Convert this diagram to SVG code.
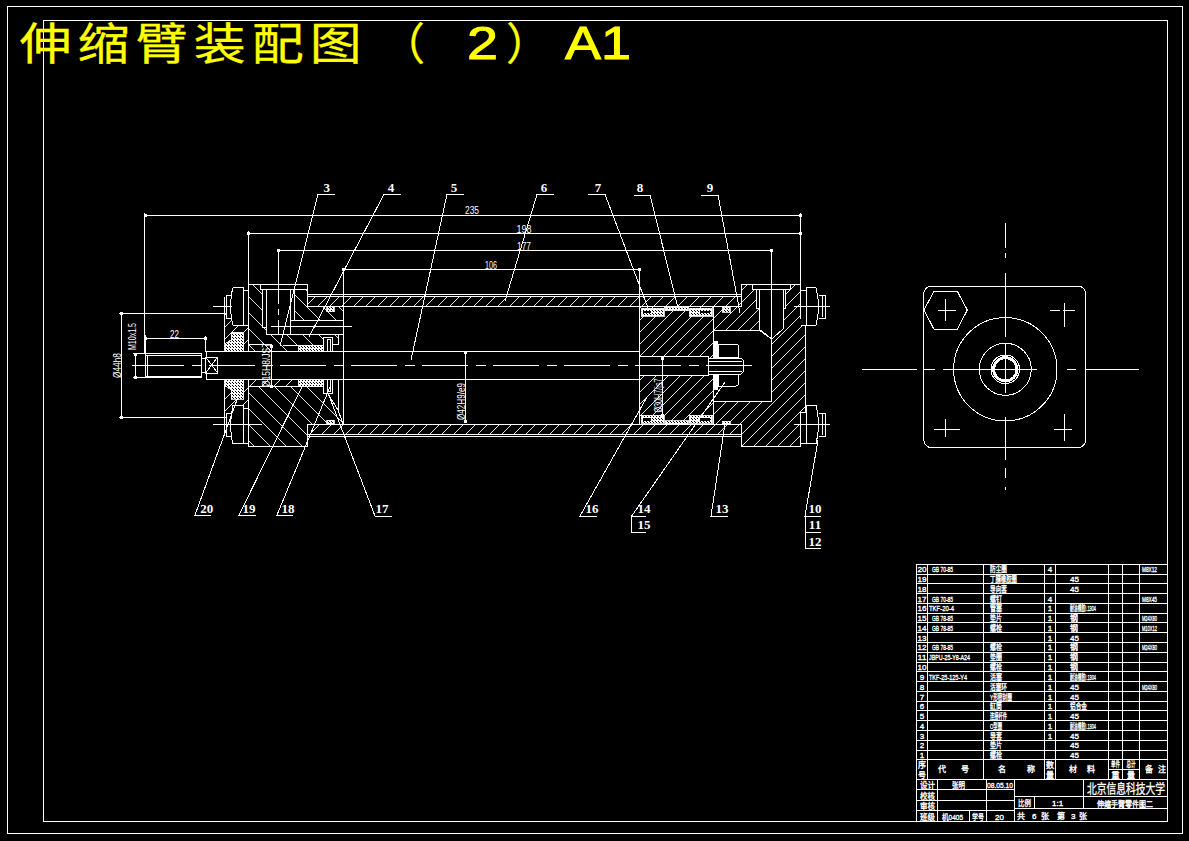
<svg xmlns="http://www.w3.org/2000/svg" width="1189" height="841" viewBox="0 0 1189 841" shape-rendering="crispEdges">
<style>
.l{fill:none;stroke:#fff;stroke-width:1}
.b{fill:#000;stroke:#fff;stroke-width:1}
.n{fill:#000;stroke:none}
.a{fill:url(#h1);stroke:#fff;stroke-width:1}
.c{fill:url(#h2);stroke:#fff;stroke-width:1}
.s{fill:url(#xh);stroke:#fff;stroke-width:.8}
.w{fill:#fff;stroke:none}
.lab{font-family:"Liberation Serif",serif;font-size:13px;font-weight:bold;fill:#fff;text-anchor:middle}
.dim{font-family:"Liberation Sans",sans-serif;font-size:11px;fill:#fff;text-anchor:middle}
.cell{font-family:"Liberation Sans","Noto Sans CJK SC",sans-serif;font-size:8px;fill:#fff;stroke:#fff;stroke-width:.35}
.big{font-family:"Noto Sans CJK SC",sans-serif;font-size:13px;fill:#fff;stroke:#fff;stroke-width:.3}
.mid{text-anchor:middle}
.ttl{font-family:"Noto Sans CJK SC",sans-serif;font-size:44px;fill:#ff0;stroke:#ff0;stroke-width:.3}
.ttl2{font-family:"Liberation Sans",sans-serif;font-size:47px;fill:#ff0;stroke:#ff0;stroke-width:1}
.dm{fill:none;stroke:#fff;stroke-width:1;marker-start:url(#d);marker-end:url(#d)}
</style>
<defs>
<pattern id="h1" width="12" height="12" patternUnits="userSpaceOnUse"><path d="M-1,1L1,-1M0,12L12,0M11,13L13,11" stroke="#fff" stroke-width=".9" fill="none"/></pattern>
<pattern id="h2" width="16" height="16" patternUnits="userSpaceOnUse"><path d="M-1,15L1,17M0,0L16,16M15,-1L17,1" stroke="#fff" stroke-width=".9" fill="none"/></pattern>
<pattern id="xh" width="3" height="3" patternUnits="userSpaceOnUse"><rect width="3" height="3" fill="#fff"/><rect x="1" y="1" width="1" height="1" fill="#000"/><rect x="2" y="2" width="1" height="1" fill="#000"/></pattern>
<marker id="d" markerWidth="3" markerHeight="3" refX="1.5" refY="1.5" markerUnits="userSpaceOnUse"><rect width="3" height="3" fill="#fff"/></marker>
</defs>
<rect width="1189" height="841" fill="#000"/>
<g id="frame"><rect class="l" x="7.5" y="6.5" width="1175" height="827"/><rect class="l" x="43.5" y="20.5" width="1124" height="801"/></g>
<g id="title">
<text class="ttl" transform="scale(1.18,1)" y="60" x="16.5 65.7 114.9 164.1 213.3 262.5">伸缩臂装配图</text>
<text class="ttl" x="381" y="60">（</text>
<text class="ttl2" x="467" y="59" textLength="31" lengthAdjust="spacingAndGlyphs">2</text>
<text class="ttl" x="506" y="60">）</text>
<text class="ttl2" x="565" y="59" textLength="66" lengthAdjust="spacingAndGlyphs">A1</text>
</g>
<g id="section">
<rect class="a" x="307.6" y="296.5" width="433.4" height="10.2"/>
<rect class="a" x="307.6" y="424.3" width="433.4" height="10"/>
<path class="l" d="M307.6 294.3H741M307.6 436H741"/>
<path class="c" d="M248.3 284.3H307.6V306.7H343.3V320H338V344H323V351.7H248.3Z"/>
<path class="b" d="M260 284.8H307V289.5H260Z"/>
<rect class="b" x="262" y="289.5" width="4.7" height="38"/>
<rect class="b" x="290" y="289.5" width="4" height="38"/>
<path class="b" d="M266.7 289.5H290V334H266.7Z"/>
<rect class="b" x="290" y="320" width="53.3" height="14"/>
<rect class="b" x="323" y="337" width="9" height="14.7"/>
<rect class="b" x="327" y="339" width="3" height="12"/>
<rect class="s" x="298.3" y="345" width="25" height="6.7"/>
<rect class="s" x="326.7" y="306.2" width="7.3" height="5.6"/>
<path class="l" d="M248.3 344.7H272M271.5 344.7V351.7M283 345L298 345"/>
<path class="c" d="M248.3 386H323L338 410L343.3 424.3H307.6V446.7H248.3Z"/>
<rect class="a" x="248.3" y="379.5" width="50" height="6.5"/>
<rect class="s" x="298.3" y="379.5" width="25" height="6.5"/>
<rect class="b" x="323" y="379.5" width="9" height="14"/>
<rect class="b" x="327" y="379.5" width="3" height="12"/>
<rect class="s" x="326.7" y="420" width="7.3" height="4.3"/>
<path class="l" d="M338 379.5V410"/>
<path class="a" d="M224.3 313.3H248.3V351.7H224.3Z"/>
<path class="a" d="M224.3 379.5H248.3V417.3H224.3Z"/>
<path class="s" d="M231 332H243.7V351.7H224.3V344L231 340Z"/>
<path class="s" d="M224.3 379.5H243.7V399H231V390L224.3 385Z"/>
<g id="bolt-left-top"><path class="b" d="M248.3 290.5H243V325H248.3M243 287.7H233Q230.7 295 230.7 306.5Q230.7 318 233 325H243ZM230.7 295H226V318H230.7"/><path class="l" d="M224.5 297V317M213 306.5H232"/></g>
<g id="bolt-left-bottom"><path class="b" d="M248.3 408H243V443H248.3M243 405H233Q230.7 415 230.7 424.5Q230.7 436 233 443.7H243ZM230.7 413H226V436H230.7"/><path class="l" d="M224.5 415V436M213 424.5H262"/></g>
<rect class="b" x="206.7" y="351.7" width="432.6" height="27.8"/>
<rect class="b" x="205.7" y="357" width="12" height="16"/>
<path class="l" d="M205.7 357L217.7 373M217.7 357L205.7 373"/>
<rect class="b" x="145" y="353.5" width="56" height="24"/>
<path class="l" d="M147 354.5V376.5M145 355H201M145 376H201M201 358H205.7M201 372H205.7"/>
<rect class="a" x="639.3" y="306.7" width="74" height="117.6"/>
<rect class="b" x="639.3" y="356" width="69" height="19"/>
<path class="l" d="M662.5 356V417"/>
<g id="piston-seals">
<rect class="s" x="641" y="308" width="23" height="8"/><rect class="s" x="665" y="307" width="23" height="3.5"/><rect class="s" x="689" y="308" width="23" height="8"/>
<rect class="s" x="641" y="415" width="23" height="8"/><rect class="s" x="665" y="420.5" width="23" height="3.5"/><rect class="s" x="689" y="415" width="23" height="8"/>
<rect class="n" x="643" y="310.5" width="8" height="2.5"/><rect class="n" x="700" y="310.5" width="10" height="2.5"/>
<rect class="n" x="643" y="418" width="8" height="2.5"/><rect class="n" x="700" y="418" width="10" height="2.5"/>
</g>
<path class="a" d="M741 284.3H800.7V318H805.3V412.7H800.7V446.7H741V424.3H713.3V401H771.7V339L759 330H713.3V306.7H741Z"/>
<path class="b" d="M752.7 284.3H790.7V289.5H752.7Z"/>
<rect class="b" x="756" y="289.5" width="29.7" height="18.5"/>
<path class="b" d="M759 289.5H783V329L771.7 339L759 329Z"/>
<path class="l" d="M771.7 250.7V401M741 294V306.7"/>
<rect class="s" x="722" y="307" width="8" height="5"/>
<rect class="s" x="722" y="421" width="8" height="3.3"/>
<g id="piston-nut">
<rect class="w" x="713.3" y="341" width="5" height="17"/><rect class="w" x="713.3" y="373" width="5" height="17"/>
<path class="b" d="M718.3 344H736Q738.7 344 738.7 347V357.5H718.3Z"/>
<path class="b" d="M718.3 373.5H738.7V383Q738.7 386 736 386H718.3Z"/>
<path class="b" d="M708.3 358H741L743.7 361V371L741 374H708.3Z"/>
<path class="l" d="M708.3 361H742M708.3 371H742"/>
</g>
<g id="bolt-right-top"><path class="b" d="M800.7 290H806V325H800.7M806 287.5H816Q818.5 297 818.5 306.5Q818.5 316 816 325H806ZM818.5 295H825V318H818.5"/><path class="l" d="M822 296V317M794 306.5H830"/></g>
<g id="bolt-right-bottom"><path class="b" d="M800.7 412H806V443H800.7M806 405H816Q818.5 415 818.5 424.5Q818.5 434 816 443.7H806ZM818.5 413H825V436H818.5"/><path class="l" d="M822 414V435M794 424.5H830"/></g>
</g>
<g id="centerlines">
<path class="l" stroke-dasharray="46 8 10 7" d="M138 365H757"/>
<path class="l" d="M132 365H141M271 326H352"/>
<path class="l" stroke-dasharray="18 5 6 5" d="M278.7 252V335"/>
</g>
<g id="dimensions">
<path class="dm" d="M145 215.3H800.7"/><path class="dm" d="M248.3 233.3H800.7"/><path class="dm" d="M278.7 250.7H771.7"/><path class="dm" d="M343.3 269.3H639.5"/><path class="dm" d="M145 338H205"/>
<path class="dm" d="M135.3 354V377"/><path class="dm" d="M121.7 313.3V417.3"/><path class="dm" d="M271.5 346V386"/><path class="dm" d="M465.7 352V421"/><path class="dm" d="M662.5 358V415"/>
<path class="l" d="M144.3 213V354M800.7 213V284M248.3 231V284M278.7 249V300M343.3 269V424M639.5 268V306M771.7 249V284M145 335V354M205 336V352M133 353.5H145M133 377.5H145M119 313.3H224M119 417.3H224"/>
<text class="dim" x="472" y="214" textLength="14" lengthAdjust="spacingAndGlyphs">235</text><text class="dim" x="524" y="232.5" textLength="15" lengthAdjust="spacingAndGlyphs">198</text><text class="dim" x="524" y="250" textLength="14" lengthAdjust="spacingAndGlyphs">177</text><text class="dim" x="491" y="268.5" textLength="12" lengthAdjust="spacingAndGlyphs">106</text><text class="dim" x="174.5" y="337.5" textLength="9" lengthAdjust="spacingAndGlyphs">22</text>
<text class="dim" transform="translate(136,336.5) rotate(-90)" textLength="27" lengthAdjust="spacingAndGlyphs">M10x1.5</text>
<text class="dim" transform="translate(121,365.5) rotate(-90)" textLength="25" lengthAdjust="spacingAndGlyphs">Ø44h8</text>
<text class="dim" transform="translate(270,365) rotate(-90)" textLength="44" lengthAdjust="spacingAndGlyphs">Ø15H8/JS7</text>
<text class="dim" transform="translate(465,401.5) rotate(-90)" textLength="37" lengthAdjust="spacingAndGlyphs">Ø42H9/e9</text>
<text class="dim" transform="translate(661.5,395.5) rotate(-90)" textLength="34" lengthAdjust="spacingAndGlyphs">Ø30H7/js7</text>
</g>
<g id="leaders">
<path class="l" d="M335 194.3H318L280 346M401 194.3H384L309 337M464 194.3H447L411 360M554 194.3H537L505 301M588 194.3H605L648 308M634 195H650L678 308M701 195H718L740 313"/>
<path class="l" d="M211 515H195L238 397M256 515H239L302 387M293 515H277L330 387M392 516H375L328 393M597 516H580L647 397M646 516H631.7L725 382M728 516H711L725 424M821 516H805L818 440"/>
<path class="l" d="M631 516V532H646M805 516V548H821M805 532H821"/>
<text class="lab" x="326.7" y="192">3</text><text class="lab" x="391" y="192">4</text><text class="lab" x="454" y="192">5</text><text class="lab" x="544" y="192">6</text><text class="lab" x="598" y="192">7</text><text class="lab" x="640" y="192">8</text><text class="lab" x="710" y="192">9</text>
<text class="lab" x="206.7" y="513">20</text><text class="lab" x="249" y="513">19</text><text class="lab" x="288" y="513">18</text><text class="lab" x="382" y="513">17</text><text class="lab" x="592" y="513">16</text><text class="lab" x="644" y="513">14</text><text class="lab" x="644" y="529">15</text><text class="lab" x="722" y="513">13</text><text class="lab" x="815" y="513">10</text><text class="lab" x="815" y="529">11</text><text class="lab" x="815" y="546">12</text>
</g>
<g id="end-view">
<rect class="l" x="923.7" y="286" width="162" height="161.7" rx="8"/>
<path class="l" d="M924 310L934 291.3H957.3L967.3 310L957.3 329.3H934Z"/>
<circle class="l" cx="1005.3" cy="369.3" r="51.7"/><circle class="l" cx="1005.3" cy="369.3" r="26"/><circle class="l" cx="1005.3" cy="369.3" r="14.3"/><circle class="l" cx="1005.3" cy="369.3" r="12.6"/>
<circle cx="1005.3" cy="369.3" r="11.2" fill="none" stroke="#fff" stroke-width="1.8"/>
<path class="l" d="M937.7 310H956M945.7 298.7V320.7M1050 310H1060M1063 310H1075M1064.3 303V327M934 429.3H960M945.7 419.3V436.7M1054 429.3H1072M1064.3 414.3V440.7"/>
<path class="l" d="M862 369.3H917M924 369.3H935M943 369.3H1037M1067 369.3H1076M1085 369.3H1139"/>
<path class="l" d="M1005.3 223V248M1005.3 253V258M1005.3 273V337M1005.3 343V393M1005.3 417V460M1005.3 468V478M1005.3 487V490"/>
</g>
<g id="title-block">
<path class="l" d="M916.7 564.3H1167.3V821H916.7ZM916.7 574H1167.3M916.7 583.8H1167.3M916.7 593.6H1167.3M916.7 603.4H1167.3M916.7 613.1H1167.3M916.7 622.9H1167.3M916.7 632.7H1167.3M916.7 642.5H1167.3M916.7 652.2H1167.3M916.7 662H1167.3M916.7 671.8H1167.3M916.7 681.5H1167.3M916.7 691.3H1167.3M916.7 701.1H1167.3M916.7 710.9H1167.3M916.7 720.6H1167.3M916.7 730.4H1167.3M916.7 740.2H1167.3M916.7 750H1167.3M916.7 759.7H1167.3M916.7 779H1167.3"/>
<path class="l" d="M927.7 564.3V779M983.3 564.3V779M1044.3 564.3V779M1055.7 564.3V779M1108.3 564.3V779M1122.7 564.3V779M1139.3 564.3V779M1108.3 769.5H1139.3"/>
<path class="l" d="M916.7 789.3H1014.3M916.7 800.3H1014.3M916.7 810.7H1014.3M937.7 779V821M969.3 810.7V821M986 779V821M1014.3 779V821M1014.3 796.7H1167.3M1014.3 808.3H1167.3M1034.3 796.7V808.3M1083.3 779V808.3"/>
<g class="cell">
<text class="mid" x="922" y="572" textLength="9" lengthAdjust="spacingAndGlyphs">20</text><text x="932" y="572" textLength="21" lengthAdjust="spacingAndGlyphs">GB 70-85</text><text x="990" y="572" textLength="17" lengthAdjust="spacingAndGlyphs">防尘圈</text><text class="mid" x="1050" y="572">4</text><text x="1142" y="572" textLength="15" lengthAdjust="spacingAndGlyphs">M8X12</text>
<text class="mid" x="922" y="582" textLength="9" lengthAdjust="spacingAndGlyphs">19</text><text x="990" y="582" textLength="27" lengthAdjust="spacingAndGlyphs">丁腈橡胶圈</text><text x="1070" y="582">45</text>
<text class="mid" x="922" y="592" textLength="9" lengthAdjust="spacingAndGlyphs">18</text><text x="990" y="592" textLength="17" lengthAdjust="spacingAndGlyphs">导向套</text><text x="1070" y="592">45</text>
<text class="mid" x="922" y="601.5" textLength="9" lengthAdjust="spacingAndGlyphs">17</text><text x="932" y="601.5" textLength="21" lengthAdjust="spacingAndGlyphs">GB 70-85</text><text x="990" y="601.5" textLength="12" lengthAdjust="spacingAndGlyphs">螺钉</text><text class="mid" x="1050" y="601.5">4</text><text x="1142" y="601.5" textLength="15" lengthAdjust="spacingAndGlyphs">M8X45</text>
<text class="mid" x="922" y="611" textLength="9" lengthAdjust="spacingAndGlyphs">16</text><text x="929" y="611" textLength="25" lengthAdjust="spacingAndGlyphs">TKF-20-4</text><text x="990" y="611" textLength="12" lengthAdjust="spacingAndGlyphs">管塞</text><text class="mid" x="1050" y="611">1</text><text x="1070" y="611" textLength="26" lengthAdjust="spacingAndGlyphs">耐油橡胶I.1304</text>
<text class="mid" x="922" y="621" textLength="9" lengthAdjust="spacingAndGlyphs">15</text><text x="932" y="621" textLength="21" lengthAdjust="spacingAndGlyphs">GB 78-85</text><text x="990" y="621" textLength="12" lengthAdjust="spacingAndGlyphs">垫片</text><text class="mid" x="1050" y="621">1</text><text x="1070" y="621">钢</text><text x="1142" y="621" textLength="15" lengthAdjust="spacingAndGlyphs">M24X80</text>
<text class="mid" x="922" y="631" textLength="9" lengthAdjust="spacingAndGlyphs">14</text><text x="932" y="631" textLength="21" lengthAdjust="spacingAndGlyphs">GB 78-85</text><text x="990" y="631" textLength="12" lengthAdjust="spacingAndGlyphs">螺栓</text><text class="mid" x="1050" y="631">1</text><text x="1070" y="631">钢</text><text x="1142" y="631" textLength="15" lengthAdjust="spacingAndGlyphs">M10X12</text>
<text class="mid" x="922" y="640.5" textLength="9" lengthAdjust="spacingAndGlyphs">13</text><text class="mid" x="1050" y="640.5">1</text><text x="1070" y="640.5">45</text>
<text class="mid" x="922" y="650" textLength="9" lengthAdjust="spacingAndGlyphs">12</text><text x="932" y="650" textLength="21" lengthAdjust="spacingAndGlyphs">GB 78-85</text><text x="990" y="650" textLength="12" lengthAdjust="spacingAndGlyphs">螺栓</text><text class="mid" x="1050" y="650">1</text><text x="1070" y="650">钢</text><text x="1142" y="650" textLength="15" lengthAdjust="spacingAndGlyphs">M24X80</text>
<text class="mid" x="922" y="660" textLength="9" lengthAdjust="spacingAndGlyphs">11</text><text x="929" y="660" textLength="41" lengthAdjust="spacingAndGlyphs">JBPU-25-Y8-A24</text><text x="990" y="660" textLength="12" lengthAdjust="spacingAndGlyphs">垫圈</text><text class="mid" x="1050" y="660">1</text><text x="1070" y="660">钢</text>
<text class="mid" x="922" y="670" textLength="9" lengthAdjust="spacingAndGlyphs">10</text><text x="990" y="670" textLength="12" lengthAdjust="spacingAndGlyphs">螺栓</text><text class="mid" x="1050" y="670">1</text><text x="1070" y="670">钢</text>
<text class="mid" x="922" y="680">9</text><text x="929" y="680" textLength="38" lengthAdjust="spacingAndGlyphs">TKF-25-125-Y4</text><text x="990" y="680" textLength="12" lengthAdjust="spacingAndGlyphs">活塞</text><text class="mid" x="1050" y="680">1</text><text x="1070" y="680" textLength="26" lengthAdjust="spacingAndGlyphs">耐油橡胶I.1304</text>
<text class="mid" x="922" y="689.5">8</text><text x="990" y="689.5" textLength="17" lengthAdjust="spacingAndGlyphs">活塞环</text><text class="mid" x="1050" y="689.5">1</text><text x="1070" y="689.5">45</text><text x="1142" y="689.5" textLength="15" lengthAdjust="spacingAndGlyphs">M24X80</text>
<text class="mid" x="922" y="699.5">7</text><text x="990" y="699.5" textLength="22" lengthAdjust="spacingAndGlyphs">Y形密封圈</text><text class="mid" x="1050" y="699.5">1</text><text x="1070" y="699.5">45</text>
<text class="mid" x="922" y="709">6</text><text x="990" y="709" textLength="12" lengthAdjust="spacingAndGlyphs">缸筒</text><text class="mid" x="1050" y="709">1</text><text x="1070" y="709" textLength="17" lengthAdjust="spacingAndGlyphs">铝合金</text>
<text class="mid" x="922" y="719">5</text><text x="990" y="719" textLength="17" lengthAdjust="spacingAndGlyphs">连接杆件</text><text class="mid" x="1050" y="719">1</text><text x="1070" y="719">45</text>
<text class="mid" x="922" y="729">4</text><text x="990" y="729" textLength="12" lengthAdjust="spacingAndGlyphs">O型圈</text><text class="mid" x="1050" y="729">1</text><text x="1070" y="729" textLength="26" lengthAdjust="spacingAndGlyphs">耐油橡胶I.1304</text>
<text class="mid" x="922" y="738.5">3</text><text x="990" y="738.5" textLength="12" lengthAdjust="spacingAndGlyphs">导套</text><text class="mid" x="1050" y="738.5">1</text><text x="1070" y="738.5">45</text>
<text class="mid" x="922" y="748">2</text><text x="990" y="748" textLength="12" lengthAdjust="spacingAndGlyphs">垫片</text><text x="1070" y="748">45</text>
<text class="mid" x="922" y="758">1</text><text x="990" y="758" textLength="12" lengthAdjust="spacingAndGlyphs">螺栓</text><text x="1070" y="758">45</text>
<text class="mid" x="922" y="768">序</text><text class="mid" x="922" y="777.5">号</text><text x="938" y="772">代</text><text x="961" y="772">号</text><text x="998" y="772">名</text><text x="1027" y="772">称</text><text class="mid" x="1050" y="768">数</text><text class="mid" x="1050" y="777.5">量</text><text x="1069" y="772">材</text><text x="1087" y="772">料</text><text class="mid" x="1115.5" y="767" textLength="9" lengthAdjust="spacingAndGlyphs">单件</text><text class="mid" x="1131" y="767" textLength="9" lengthAdjust="spacingAndGlyphs">总计</text><text class="mid" x="1115.5" y="777.5">重</text><text class="mid" x="1131" y="777.5">量</text><text x="1145" y="772">备</text><text x="1158" y="772">注</text>
<text x="920" y="788" textLength="15" lengthAdjust="spacingAndGlyphs">设计</text><text x="952" y="788" textLength="13" lengthAdjust="spacingAndGlyphs">张明</text><text x="987" y="788" textLength="26" lengthAdjust="spacingAndGlyphs">08.05.10</text>
<text x="920" y="798.5" textLength="15" lengthAdjust="spacingAndGlyphs">校核</text><text x="920" y="809" textLength="15" lengthAdjust="spacingAndGlyphs">审核</text><text x="920" y="819.5" textLength="15" lengthAdjust="spacingAndGlyphs">班级</text><text x="942" y="819.5" textLength="21" lengthAdjust="spacingAndGlyphs">机0405</text><text x="972" y="819.5" textLength="12" lengthAdjust="spacingAndGlyphs">学号</text><text x="995" y="819.5">20</text>
<text x="1018" y="806" textLength="13" lengthAdjust="spacingAndGlyphs">比例</text><text x="1052" y="806">1:1</text>
<text x="1017" y="819">共</text><text x="1032" y="819">6</text><text x="1041" y="819">张</text><text x="1057" y="819">第</text><text x="1071" y="819">3</text><text x="1079" y="819">张</text>
<text x="1097" y="806.5" textLength="56" lengthAdjust="spacingAndGlyphs">伸缩手臂零件图二</text>
</g>
<text class="big" x="1087" y="793" textLength="78" lengthAdjust="spacingAndGlyphs">北京信息科技大学</text>
</g>
</svg>
